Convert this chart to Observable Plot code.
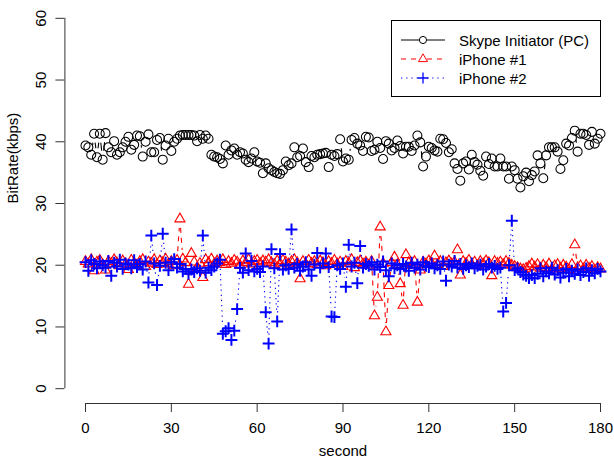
<!DOCTYPE html>
<html><head><meta charset="utf-8">
<script src="https://cdn.jsdelivr.net/npm/d3@7"></script>
<script src="https://cdn.jsdelivr.net/npm/@observablehq/plot@0.6"></script>
<style>
html,body{margin:0;padding:0;background:#fff;}
#chart{position:relative;width:614px;height:459px;font-family:"Liberation Sans",Arial,sans-serif;}
#chart svg{display:block;}
#legend{position:absolute;left:0;top:0;pointer-events:none;}
</style></head><body><div id="chart"></div>
<script>
// ---- data (kbps per second) ----
const skype = [
 39.4,39.1,37.9,41.3,37.5,41.3,37.1,41.4,39.1,38.3,
 40.1,37.9,38.3,39.1,40.0,40.8,38.7,39.5,41.0,40.9,
 37.6,40.0,41.2,38.3,38.3,40.3,40.6,37.1,39.4,40.5,
 38.5,40.0,40.5,41.0,41.1,41.1,41.1,41.1,41.0,40.1,
 41.1,40.5,41.0,40.5,37.9,37.6,37.5,37.2,36.5,39.4,
 37.9,38.6,38.9,37.9,38.3,38.1,37.1,36.7,37.3,38.3,
 36.8,36.6,34.9,36.5,35.7,35.4,35.1,34.9,34.8,35.4,
 36.8,36.2,36.5,39.1,37.5,37.7,38.9,36.7,35.9,37.7,
 37.5,37.9,38.0,38.1,38.2,35.9,37.9,37.7,38.0,40.4,
 36.8,37.3,37.1,40.3,40.6,39.7,39.4,38.5,40.8,40.7,
 38.5,38.7,40.0,39.0,37.2,40.1,39.7,38.6,39.0,40.2,
 39.3,38.1,39.2,39.2,38.5,39.4,41.0,39.9,36.0,37.6,
 39.2,39.0,38.6,38.4,40.5,40.4,39.8,38.3,38.8,36.5,
 35.6,33.7,36.5,36.8,35.5,37.9,36.7,36.3,35.3,34.5,
 37.6,36.4,37.3,36.0,36.0,37.3,36.0,36.0,34.0,36.0,
 35.4,34.0,32.6,34.4,35.0,33.6,34.6,35.2,37.8,36.5,
 34.1,37.8,39.1,39.1,39.1,38.4,35.6,37.0,39.7,39.4,
 40.6,41.8,38.4,41.3,41.3,41.1,39.5,41.6,39.7,40.5,
 41.3];
const iphone1 = [
 20.6,20.2,20.9,19.1,20.5,20.8,20.1,19.2,20.6,20.3,
 20.9,20.4,19.9,20.7,20.2,19.3,20.8,20.4,20.0,20.6,
 20.9,19.8,20.5,20.3,20.9,20.1,20.7,20.4,21.0,20.2,
 20.6,19.9,20.8,27.5,21.0,20.4,16.9,21.9,20.5,19.6,
 20.3,18.0,20.9,20.4,21.0,20.2,20.7,20.4,20.9,20.1,
 20.6,20.3,20.8,20.5,20.0,20.7,20.4,20.9,20.2,20.6,
 20.8,20.3,20.7,20.5,20.9,20.4,20.1,20.7,20.3,20.8,
 20.5,20.2,20.6,20.9,20.4,17.8,20.6,20.2,20.8,20.3,
 20.6,20.1,20.7,20.4,19.9,20.6,20.3,20.8,20.2,20.5,
 19.8,20.6,20.3,20.9,19.6,20.4,20.7,20.2,20.5,20.0,
 20.6,11.8,14.8,26.2,20.3,9.2,16.7,20.4,21.3,20.1,
 17.0,13.5,21.7,20.4,20.0,20.6,14.0,19.2,20.5,20.2,
 20.7,20.3,21.5,20.1,20.6,19.8,20.4,20.7,20.2,20.5,
 22.5,18.4,20.6,20.3,20.8,20.1,20.5,19.9,20.6,20.2,
 20.7,20.4,18.3,20.6,20.3,20.5,20.1,20.6,20.3,20.0,
 19.8,19.6,19.4,19.3,19.5,19.8,20.2,19.7,20.1,19.5,
 20.0,19.6,20.2,19.4,19.9,20.1,19.5,20.0,19.7,19.3,
 20.1,23.3,19.6,19.9,19.4,20.0,19.5,19.8,19.2,19.6,
 19.4];
const iphone2 = [
 20.5,19.1,20.8,20.2,19.5,20.6,20.0,19.6,20.7,18.3,
 20.4,19.8,20.9,19.4,20.3,20.1,19.5,20.8,19.7,20.2,
 19.3,20.6,17.2,24.8,20.3,16.8,19.9,25.1,20.4,19.2,
 20.5,21.0,19.6,20.2,19.0,19.4,18.6,19.3,18.9,19.5,
 19.1,24.8,18.8,19.6,19.2,19.8,20.3,20.9,8.9,9.3,
 9.8,7.9,9.4,12.9,19.6,18.8,21.9,19.2,20.7,19.0,
 19.4,18.9,19.8,12.4,7.3,22.6,19.5,10.9,21.8,19.3,
 20.0,19.4,25.8,19.6,20.2,19.1,19.8,20.5,19.3,18.3,
 20.1,22.0,19.6,20.3,21.9,19.7,11.7,11.6,20.0,19.4,
 20.3,16.5,23.3,19.8,20.4,17.1,23.1,19.6,20.2,19.9,
 20.5,19.3,20.1,19.7,20.6,19.2,18.2,20.3,19.5,20.0,
 19.4,20.2,19.8,19.1,20.4,19.6,20.1,19.3,20.5,19.9,
 19.7,20.3,19.5,20.0,19.4,20.6,17.5,20.1,19.8,20.7,
 19.6,20.2,19.4,20.0,19.7,20.3,19.5,19.9,20.1,19.3,
 19.8,20.2,19.6,19.9,19.4,19.6,12.5,13.9,20.0,27.2,
 19.2,19.5,18.9,18.5,18.3,17.9,18.4,17.9,18.6,19.5,
 18.2,19.0,18.7,19.6,18.5,19.2,18.0,18.8,19.4,18.2,
 19.1,18.6,19.3,18.4,18.9,19.5,18.3,19.2,18.7,19.4,
 19.0];
const seconds = d3.range(skype.length);
const xTicks = [0, 30, 60, 90, 120, 150, 180];
const yTicks = [0, 10, 20, 30, 40, 50, 60];
const seriesNames = ["Skype Initiator (PC)", "iPhone #1", "iPhone #2"];
const xTitle = "second";
const yTitle = "BitRate(kbps)";

// ---- layout / styles ----
const W = 614, H = 459;
const FONT = '"Liberation Sans", Arial, Helvetica, sans-serif';
const FS = 15;
const xDomain = [-7.2, 187.2], xRange = [64.4, 620.6];
const yDomain = [-2.4, 62.4], yRange = [403, 3];
const styles = [
  {stroke: "black", dash: null, symbol: "circle", r: 4.5, sw: 1.05},
  {stroke: "red", dash: "5,5", symbol: "triangle2", r: 4.8, sw: 1.1},
  {stroke: "blue", dash: "1.3,3.9", symbol: "plus", r: 3.9, sw: 2}
];
const GAP = 9;

const xs = d3.scaleLinear(xDomain, xRange), ys = d3.scaleLinear(yDomain, yRange);
function gapped(vals) {
  const segs = [];
  for (let i = 1; i < vals.length; i++) {
    const xa = seconds[i-1], ya = vals[i-1], xb = seconds[i], yb = vals[i];
    const L = Math.hypot(xs(xb) - xs(xa), ys(yb) - ys(ya));
    if (L > 2 * GAP) {
      const f = GAP / L;
      segs.push({x1: xa + (xb - xa) * f, y1: ya + (yb - ya) * f,
                 x2: xb - (xb - xa) * f, y2: yb - (yb - ya) * f});
    }
  }
  return segs;
}
const allSeries = [skype, iphone1, iphone2];
const seriesMarks = [];
allSeries.forEach((vals, k) => {
  const s = styles[k];
  const pts = vals.map((v, i) => ({t: seconds[i], v}));
  seriesMarks.push(Plot.link(gapped(vals), {x1: "x1", y1: "y1", x2: "x2", y2: "y2",
    stroke: s.stroke, strokeWidth: 1.1, strokeDasharray: s.dash}));
  seriesMarks.push(Plot.dot(pts, {x: "t", y: "v", symbol: () => s.symbol, r: s.r,
    stroke: s.stroke, strokeWidth: s.sw, fill: "none"}));
});

const last = a => a[a.length - 1];
const plot = Plot.plot({
  width: W, height: H,
  marginLeft: xRange[0], marginRight: 0, marginTop: yRange[1], marginBottom: H - yRange[0],
  x: {domain: xDomain, range: xRange},
  y: {domain: yDomain, range: yRange},
  symbol: {type: "identity"},
  style: {fontFamily: FONT, fontSize: FS + "px", background: "white", color: "black", overflow: "visible"},
  marks: [
    Plot.ruleY([yDomain[0]], {x1: xTicks[0], x2: last(xTicks), stroke: "#333", strokeWidth: 1}),
    Plot.ruleX([xDomain[0]], {y1: yTicks[0], y2: last(yTicks), stroke: "#333", strokeWidth: 1}),
    Plot.axisX({ticks: xTicks, anchor: "bottom", tickSize: 9, tickPadding: 10, label: null,
      fontSize: FS, tickFormat: d => String(d), stroke: "#333", fill: "black"}),
    Plot.axisY({ticks: yTicks, anchor: "left", tickSize: 9, tickPadding: 10, tickRotate: -90, label: null,
      fontSize: FS, tickFormat: d => String(d), stroke: "#333", fill: "black"}),
    Plot.text([{label: xTitle, x: (xTicks[0] + last(xTicks)) / 2}], {x: "x", text: "label",
      frameAnchor: "bottom", lineAnchor: "bottom", dy: 52, fontSize: FS, fill: "black"}),
    Plot.text([{label: yTitle, y: (yTicks[0] + last(yTicks)) / 2}], {y: "y", text: "label",
      frameAnchor: "left", lineAnchor: "bottom", rotate: -90, dx: -47, fontSize: FS, fill: "black"}),
    ...seriesMarks
  ]
});
const chart = document.getElementById("chart");
chart.appendChild(plot);

// ---- legend overlay ----
const lg = d3.select(chart).append("svg").attr("id", "legend").attr("width", W).attr("height", H);
const box = {x0: 391.5, x1: 600.5, y0: 20.5, y1: 96.5};
lg.append("rect").attr("x", box.x0).attr("y", box.y0).attr("width", box.x1 - box.x0).attr("height", box.y1 - box.y0)
  .attr("fill", "white").attr("stroke", "black").attr("stroke-width", 1);
const symMap = {circle: d3.symbolCircle, triangle2: d3.symbolTriangle2, plus: d3.symbolPlus};
const legendSym = [{r: 3.6, sw: 1}, {r: 4.3, sw: 1}, {r: 3.6, sw: 1.3}];
seriesNames.forEach((name, k) => {
  const s = styles[k];
  const cy = 40 + k * 19, cx = 423;
  const g = lg.append("g");
  g.append("line").attr("x1", 401).attr("x2", cx - 4).attr("y1", cy).attr("y2", cy)
    .attr("stroke", s.stroke).attr("stroke-dasharray", s.dash).attr("stroke-width", 1);
  g.append("line").attr("x1", cx + 4).attr("x2", 445).attr("y1", cy).attr("y2", cy)
    .attr("stroke", s.stroke).attr("stroke-dasharray", s.dash).attr("stroke-width", 1);
  g.append("path").attr("transform", `translate(${cx},${cy})`)
    .attr("d", d3.symbol(symMap[s.symbol], Math.PI * legendSym[k].r * legendSym[k].r)())
    .attr("fill", "none").attr("stroke", s.stroke).attr("stroke-width", legendSym[k].sw);
  g.append("text").attr("x", 459).attr("y", cy + 5.5).attr("font-family", FONT).attr("font-size", FS)
    .attr("fill", "black").text(name);
});
</script></body></html>
